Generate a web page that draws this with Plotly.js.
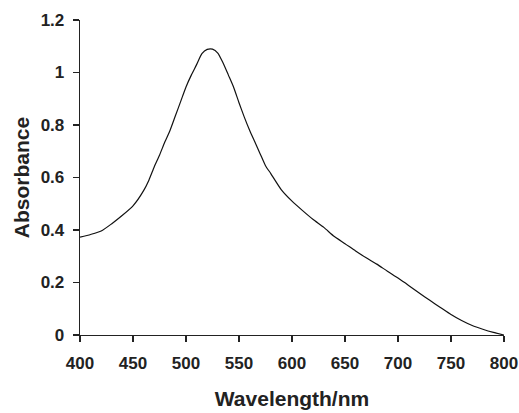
<!DOCTYPE html>
<html>
<head>
<meta charset="utf-8">
<script src="https://cdn.plot.ly/plotly-3.0.1.min.js"></script>
<style>html,body{margin:0;padding:0;background:#fff;}#chart{width:519px;height:413px;}</style>
</head>
<body>
<div id="chart"></div>
<script>
const wavelength = [400,410,420,430,440,450,460,465,470,475,480,485,490,495,500,505,510,515,520,525,530,535,540,545,550,555,560,565,570,575,580,590,600,610,620,630,640,650,660,670,680,690,700,710,720,730,740,750,760,770,780,790,800];
const absorbance = [0.373,0.383,0.396,0.424,0.456,0.492,0.55,0.59,0.64,0.685,0.735,0.78,0.835,0.89,0.945,0.99,1.03,1.072,1.088,1.089,1.074,1.036,0.99,0.943,0.885,0.83,0.78,0.735,0.69,0.645,0.615,0.553,0.51,0.474,0.44,0.41,0.375,0.348,0.32,0.294,0.27,0.243,0.217,0.189,0.16,0.132,0.105,0.078,0.055,0.036,0.022,0.01,0.0];
const xTicks = [400,450,500,550,600,650,700,750,800];
const yTicks = [0,0.2,0.4,0.6,0.8,1,1.2];
const yTickText = ['0','0.2','0.4','0.6','0.8','1','1.2'];

const fontFam = "Liberation Sans, Arial, sans-serif";
Plotly.newPlot('chart', [{
  x: wavelength, y: absorbance, type: 'scatter', mode: 'lines',
  line: {color: '#111', width: 1.2, shape: 'spline', smoothing: 0.6},
  hoverinfo: 'skip'
}], {
  width: 519, height: 413,
  margin: {l: 80, r: 15, t: 20, b: 78},
  paper_bgcolor: '#fff', plot_bgcolor: '#fff',
  showlegend: false,
  font: {family: fontFam, color: '#222'},
  xaxis: {
    range: [400, 800], tickvals: xTicks, ticktext: xTicks.map(String),
    showgrid: false, zeroline: false, showline: true, linecolor: '#222', linewidth: 1.3,
    ticks: 'outside', ticklen: 6, tickcolor: '#222', tickwidth: 1.2,
    ticklabelstandoff: 6,
    tickfont: {family: fontFam, size: 17, color: '#222', weight: 'bold'},
    title: {text: 'Wavelength/nm', font: {family: fontFam, size: 21, color: '#222', weight: 'bold'}, standoff: 19},
    automargin: false
  },
  yaxis: {
    range: [0, 1.2], tickvals: yTicks, ticktext: yTickText,
    showgrid: false, zeroline: false, showline: true, linecolor: '#222', linewidth: 1.3,
    ticks: 'outside', ticklen: 6, tickcolor: '#222', tickwidth: 1.2,
    ticklabelstandoff: 5,
    tickfont: {family: fontFam, size: 17, color: '#222', weight: 'bold'},
    title: {text: 'Absorbance', font: {family: fontFam, size: 21, color: '#222', weight: 'bold'}, standoff: 5},
    automargin: false
  }
}, {displayModeBar: false, staticPlot: true});
</script>
</body>
</html>
